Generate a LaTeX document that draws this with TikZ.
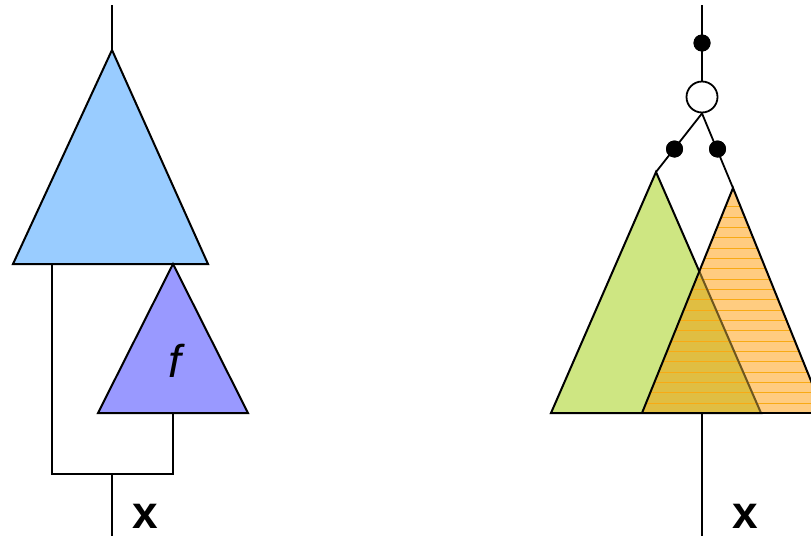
\documentclass[tikz,border=0pt]{standalone}
\usepackage{fontspec}
\setmainfont{Liberation Sans}
\definecolor{blueT}{RGB}{153,204,255}
\definecolor{purpleT}{RGB}{153,153,255}
\definecolor{greenT}{RGB}{206,230,130}
\definecolor{orangeT}{RGB}{255,204,128}
\definecolor{overlapT}{RGB}{224,190,66}
\definecolor{stripeT}{RGB}{248,170,20}
\definecolor{edgeT}{RGB}{110,85,30}
\begin{document}
\begin{tikzpicture}[x=1pt,y=-1pt,line width=1.8pt,
  tri/.style={draw=black,line width=2pt,line join=miter},
  dotnode/.style={circle,fill=black,draw=none,minimum size=17pt,inner sep=0pt},
  opennode/.style={circle,fill=white,draw=black,line width=1.8pt,minimum size=31pt,inner sep=0pt},
  lbl/.style={font=\bfseries\fontsize{46}{46}\selectfont,inner sep=0pt},
  flbl/.style={font=\itshape\fontsize{46}{46}\selectfont,inner sep=0pt}]
\useasboundingbox (0,0) rectangle (811,536);
% ---------- left diagram ----------
\coordinate (t1) at (112,5);
\coordinate (bA) at (112,50);
\coordinate (bL) at (13,264);
\coordinate (bR) at (208,264);
\coordinate (fA) at (173,264);
\coordinate (fL) at (98,413);
\coordinate (fR) at (248,413);
\coordinate (fB) at (173,413);
\coordinate (leg) at (52,264);
\coordinate (j1) at (52,474);
\coordinate (j2) at (173,474);
\coordinate (m1) at (112,474);
\coordinate (e1) at (112,536);
\fill[blueT] (bA) -- (bL) -- (bR) -- cycle;
\draw[tri] (bA) -- (bL) -- (bR) -- cycle;
\fill[purpleT] (fA) -- (fL) -- (fR) -- cycle;
\draw[tri] (fA) -- (fL) -- (fR) -- cycle;
\draw (t1) -- (bA);
\draw (leg) -- (j1) -- (j2) -- (fB);
\draw (m1) -- (e1);
\node[flbl] (f) at (175,361) {f};
\node[lbl] (x1) at (145,516) {x};
% ---------- right diagram ----------
\coordinate (t2) at (702,5);
\coordinate (gA) at (656,172);
\coordinate (gL) at (551,413);
\coordinate (gR) at (761,413);
\coordinate (oA) at (733,188);
\coordinate (oL) at (642,413);
\coordinate (oR) at (824,413);
\coordinate (m2) at (702,413);
\coordinate (e2) at (702,536);
\fill[greenT] (gA) -- (gL) -- (gR) -- cycle;
\draw[tri] (gA) -- (gL) -- (gR) -- cycle;
\fill[orangeT] (oA) -- (oL) -- (oR) -- cycle;
\begin{scope}
  \clip (gA) -- (gL) -- (gR) -- cycle;
  \fill[overlapT] (oA) -- (oL) -- (oR) -- cycle;
\end{scope}
\begin{scope}
  \clip (oA) -- (oL) -- (oR) -- cycle;
  \foreach \i in {0,...,19}
    \draw[stripeT,line width=0.9pt] (600,206.7+\i*10.33) -- (840,206.7+\i*10.33);
  \draw[edgeT,line width=2pt] (gA) -- (gR);
\end{scope}
\draw[tri] (oL) -- (oA) -- (oR);
\draw[line width=2pt] (gL) -- (oR);
\draw (m2) -- (e2);
\node[opennode] (c) at (702,97) {};
\node[dotnode] (d1) at (702,43) {};
\node[dotnode] (d2) at (674.5,149) {};
\node[dotnode] (d3) at (717.5,149) {};
\draw (t2) -- (c.north);
\draw (c.south) -- (gA);
\draw (c.south) -- (oA);
\node[dotnode] at (d1) {};
\node[dotnode] at (d2) {};
\node[dotnode] at (d3) {};
\node[lbl] (x2) at (745,516) {x};
\end{tikzpicture}
\end{document}
